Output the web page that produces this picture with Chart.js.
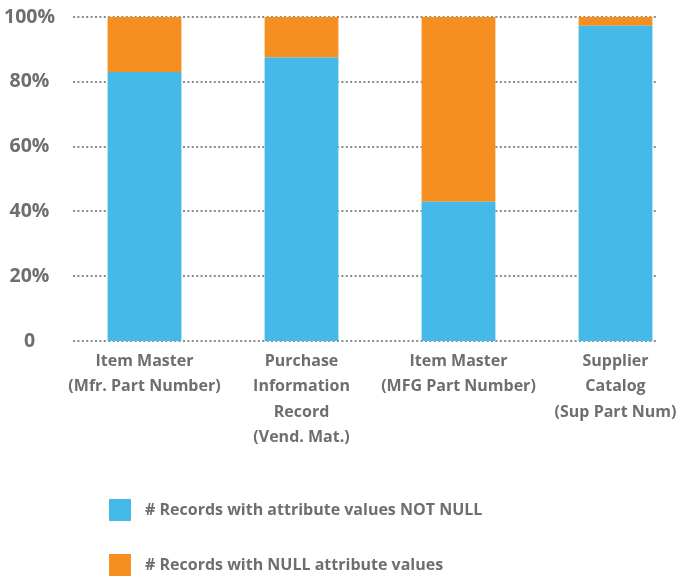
<!DOCTYPE html>
<html>
<head>
<meta charset="utf-8">
<script src="https://cdn.jsdelivr.net/npm/chart.js@4.4.1/dist/chart.umd.min.js"></script>
<style>
  html, body { margin: 0; padding: 0; background: #fff; }
  #wrap { width: 694px; height: 579px; }
</style>
</head>
<body>
<div id="wrap"><canvas id="chart" width="694" height="579"></canvas></div>
<script>
// data (percent of records)
const categories = [
  ['Item Master', '(Mfr. Part Number)'],
  ['Purchase', 'Information', 'Record', '(Vend. Mat.)'],
  ['Item Master', '(MFG Part Number)'],
  ['Supplier', 'Catalog', '(Sup Part Num)']
];
const notNullValues = [83, 87.5, 43, 97.3];
const nullValues = [17, 12.5, 57, 2.7];
const seriesNames = ['# Records with attribute values NOT NULL', '# Records with NULL attribute values'];
const yTicks = [0, 20, 40, 60, 80, 100];

const textColor = '#6d6e71';
const fontFamily = '"Open Sans", "DejaVu Sans", sans-serif';

// dotted horizontal grid lines, shorter than the chart area
const dottedGrid = {
  id: 'dottedGrid',
  beforeDatasetsDraw(chart) {
    const ctx = chart.ctx;
    const y = chart.scales.y;
    ctx.save();
    ctx.strokeStyle = '#8a8a8a';
    ctx.lineWidth = 2;
    ctx.setLineDash([2, 2.4]);
    yTicks.forEach(t => {
      const py = Math.round(y.getPixelForValue(t));
      ctx.beginPath();
      ctx.moveTo(73, py);
      ctx.lineTo(658, py);
      ctx.stroke();
    });
    ctx.restore();
  }
};

// legend stacked in one column, left aligned
const columnLegend = {
  id: 'columnLegend',
  afterDraw(chart) {
    const ctx = chart.ctx;
    ctx.save();
    ctx.font = 'bold 16px ' + fontFamily;
    ctx.textBaseline = 'middle';
    chart.data.datasets.forEach((ds, i) => {
      const cy = 510 + i * 55;
      ctx.fillStyle = ds.backgroundColor;
      ctx.fillRect(109, cy - 11, 22, 22);
      ctx.fillStyle = textColor;
      ctx.fillText(ds.label, 145, cy);
    });
    ctx.restore();
  }
};

new Chart(document.getElementById('chart'), {
  type: 'bar',
  data: {
    labels: categories,
    datasets: [
      { label: seriesNames[0], data: notNullValues, backgroundColor: '#45b9e8' },
      { label: seriesNames[1], data: nullValues, backgroundColor: '#f58f1f' }
    ]
  },
  options: {
    responsive: false,
    animation: false,
    layout: { padding: { top: 17, right: -4, bottom: 108, left: 0 } },
    datasets: { bar: { categoryPercentage: 1, barPercentage: 0.47 } },
    plugins: {
      legend: { display: false },
      tooltip: { enabled: false }
    },
    scales: {
      x: {
        stacked: true,
        grid: { display: false },
        border: { display: false },
        ticks: {
          color: textColor,
          padding: 0,
          maxRotation: 0,
          autoSkip: false,
          font: { family: fontFamily, size: 16, weight: 'bold', lineHeight: 1.58 }
        },
        afterFit(scale) { scale.height = 130; }
      },
      y: {
        stacked: true,
        min: 0,
        max: 100,
        grid: { display: false },
        border: { display: false },
        ticks: {
          stepSize: 20,
          color: textColor,
          padding: 3,
          crossAlign: 'center',
          font: { family: fontFamily, size: 19.5, weight: 'bold' },
          callback: v => v === 0 ? '0' : v + '%'
        },
        afterFit(scale) { scale.width = 66; }
      }
    }
  },
  plugins: [dottedGrid, columnLegend]
});
</script>
</body>
</html>
